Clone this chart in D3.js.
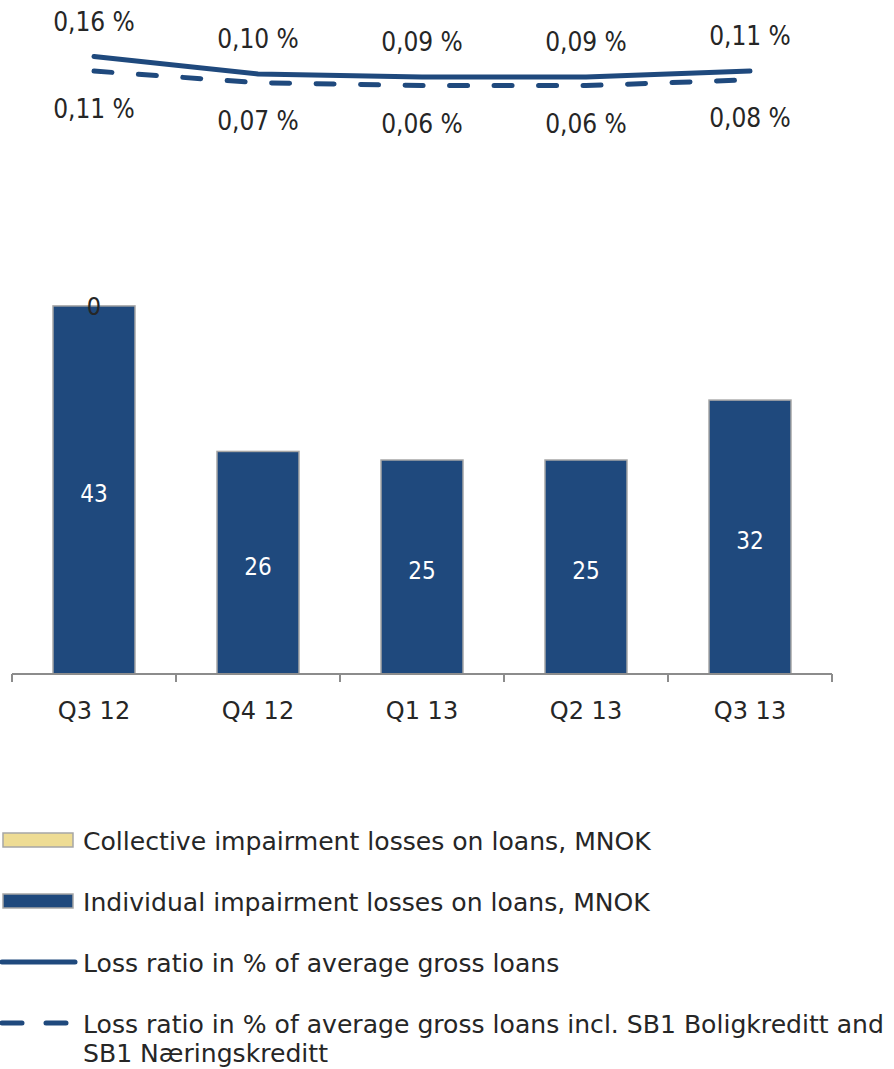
<!DOCTYPE html>
<html>
<head>
<meta charset="utf-8">
<script src="https://cdn.jsdelivr.net/npm/d3@7"></script>
<style>
  html, body { margin: 0; padding: 0; background: #ffffff; }
  svg { display: block; }
  text { font-family: "DejaVu Sans", sans-serif; fill: #262626; }
  text.num { font-family: "DejaVu Sans Condensed", "DejaVu Sans", sans-serif; }
</style>
</head>
<body>
<svg id="chart" width="894" height="1069"></svg>
<script>
// Quarterly impairment losses and loss ratios
const quarters = ["Q3 12", "Q4 12", "Q1 13", "Q2 13", "Q3 13"];
const individualLosses = [43, 26, 25, 25, 32];          // MNOK
const collectiveLosses = [0, null, null, null, null];    // MNOK
const lossRatio = [0.16, 0.10, 0.09, 0.09, 0.11];        // % of average gross loans
const lossRatioInclSB1 = [0.11, 0.07, 0.06, 0.06, 0.08]; // % incl. SB1 Boligkreditt and SB1 Næringskreditt

const legendItems = [
  { kind: "rect", fill: "#EEDC94", lines: ["Collective impairment losses on loans, MNOK"] },
  { kind: "rect", fill: "#1F497D", lines: ["Individual impairment losses on loans, MNOK"] },
  { kind: "solid", lines: ["Loss ratio in % of average gross loans"] },
  { kind: "dashed", lines: ["Loss ratio in % of average gross loans incl. SB1 Boligkreditt and", "SB1 Næringskreditt"] }
];

const navy = "#1F497D";
const dash = "18 26.5";
const svg = d3.select("#chart");

const x = d3.scaleBand()
  .domain(quarters)
  .range([12, 832])
  .paddingInner(0.5)
  .paddingOuter(0.25);

const yBar = d3.scaleLinear().domain([0, 50]).range([674, 246]);
const yRatio = d3.scaleLinear().domain([0, 0.2]).range([103, 45]);

const fmtPct = v => v.toFixed(2).replace(".", ",") + " %";
const cx = d => x(d) + x.bandwidth() / 2;

// Bars: individual losses, with the collective part stacked on top
const bars = svg.append("g");
bars.selectAll("rect.ind")
  .data(quarters)
  .join("rect")
  .attr("class", "ind")
  .attr("x", d => x(d))
  .attr("y", (d, i) => yBar(individualLosses[i]))
  .attr("width", x.bandwidth())
  .attr("height", (d, i) => yBar(0) - yBar(individualLosses[i]))
  .attr("fill", navy)
  .attr("stroke", "#A6A6A6")
  .attr("stroke-width", 1.5);

bars.selectAll("rect.col")
  .data(quarters.filter((d, i) => collectiveLosses[i] !== null && collectiveLosses[i] > 0))
  .join("rect")
  .attr("class", "col")
  .attr("x", d => x(d))
  .attr("y", d => { const i = quarters.indexOf(d); return yBar(individualLosses[i] + collectiveLosses[i]); })
  .attr("width", x.bandwidth())
  .attr("height", d => { const i = quarters.indexOf(d); return yBar(0) - yBar(collectiveLosses[i]); })
  .attr("fill", "#EEDC94")
  .attr("stroke", "#A6A6A6");

// Value labels inside bars
bars.selectAll("text.ind")
  .data(quarters)
  .join("text")
  .attr("class", "ind num")
  .attr("x", d => cx(d))
  .attr("y", (d, i) => (yBar(0) + yBar(individualLosses[i])) / 2 + 12)
  .attr("text-anchor", "middle")
  .style("fill", "#ffffff")
  .style("font-size", "24px")
  .text((d, i) => individualLosses[i]);

// Collective labels at the top of each stack
bars.selectAll("text.col")
  .data(quarters.filter((d, i) => collectiveLosses[i] !== null))
  .join("text")
  .attr("class", "col num")
  .attr("x", d => cx(d))
  .attr("y", d => { const i = quarters.indexOf(d); return yBar(individualLosses[i] + collectiveLosses[i] / 2) + 9.5; })
  .attr("text-anchor", "middle")
  .style("font-size", "25px")
  .text(d => collectiveLosses[quarters.indexOf(d)]);

// Category axis with ticks between groups
const axisG = svg.append("g");
axisG.append("line")
  .attr("x1", x.range()[0]).attr("x2", x.range()[1])
  .attr("y1", yBar(0)).attr("y2", yBar(0))
  .attr("stroke", "#8C8C8C").attr("stroke-width", 2);
const boundaries = quarters.map(d => x(d) - x.step() * x.paddingInner() / 2);
boundaries.push(x.range()[1]);
boundaries[0] = x.range()[0];
axisG.selectAll("line.tick")
  .data(boundaries)
  .join("line")
  .attr("class", "tick")
  .attr("x1", d => d).attr("x2", d => d)
  .attr("y1", yBar(0)).attr("y2", yBar(0) + 8)
  .attr("stroke", "#8C8C8C").attr("stroke-width", 2);
axisG.selectAll("text")
  .data(quarters)
  .join("text")
  .attr("x", d => cx(d))
  .attr("y", 718.5)
  .attr("text-anchor", "middle")
  .style("font-size", "24px")
  .text(d => d);

// Loss ratio lines
const ratioLine = d3.line().x((d, i) => cx(quarters[i])).y(d => yRatio(d));

svg.append("path")
  .datum(lossRatio)
  .attr("d", ratioLine)
  .attr("fill", "none")
  .attr("stroke", navy)
  .attr("stroke-width", 5)
  .attr("stroke-linecap", "round")
  .attr("stroke-linejoin", "round");

svg.append("path")
  .datum(lossRatioInclSB1)
  .attr("d", ratioLine)
  .attr("fill", "none")
  .attr("stroke", navy)
  .attr("stroke-width", 5)
  .attr("stroke-linecap", "round")
  .attr("stroke-dasharray", dash);

svg.append("g").selectAll("text")
  .data(lossRatio)
  .join("text")
  .attr("class", "num")
  .attr("x", (d, i) => cx(quarters[i]))
  .attr("y", d => yRatio(d) - 26)
  .attr("text-anchor", "middle")
  .style("font-size", "26px")
  .text(fmtPct);

svg.append("g").selectAll("text")
  .data(lossRatioInclSB1)
  .join("text")
  .attr("class", "num")
  .attr("x", (d, i) => cx(quarters[i]))
  .attr("y", d => yRatio(d) + 47)
  .attr("text-anchor", "middle")
  .style("font-size", "26px")
  .text(fmtPct);

// Legend
const legend = svg.append("g");
const legendTop = 840, legendStep = 61;
legendItems.forEach((item, k) => {
  const cy = legendTop + k * legendStep;
  const g = legend.append("g");
  if (item.kind === "rect") {
    g.append("rect")
      .attr("x", 3).attr("y", cy - 7)
      .attr("width", 70).attr("height", 14)
      .attr("fill", item.fill)
      .attr("stroke", "#A6A6A6").attr("stroke-width", 1.5);
  } else {
    g.append("line")
      .attr("x1", 2).attr("x2", 75)
      .attr("y1", cy).attr("y2", cy)
      .attr("stroke", navy).attr("stroke-width", 5)
      .attr("stroke-linecap", "round")
      .attr("stroke-dasharray", item.kind === "dashed" ? "20 24" : null);
  }
  item.lines.forEach((t, j) => {
    g.append("text")
      .attr("x", 83)
      .attr("y", cy + 9.5 + j * 29)
      .style("font-size", "25.1px")
      .text(t);
  });
});
</script>
</body>
</html>
